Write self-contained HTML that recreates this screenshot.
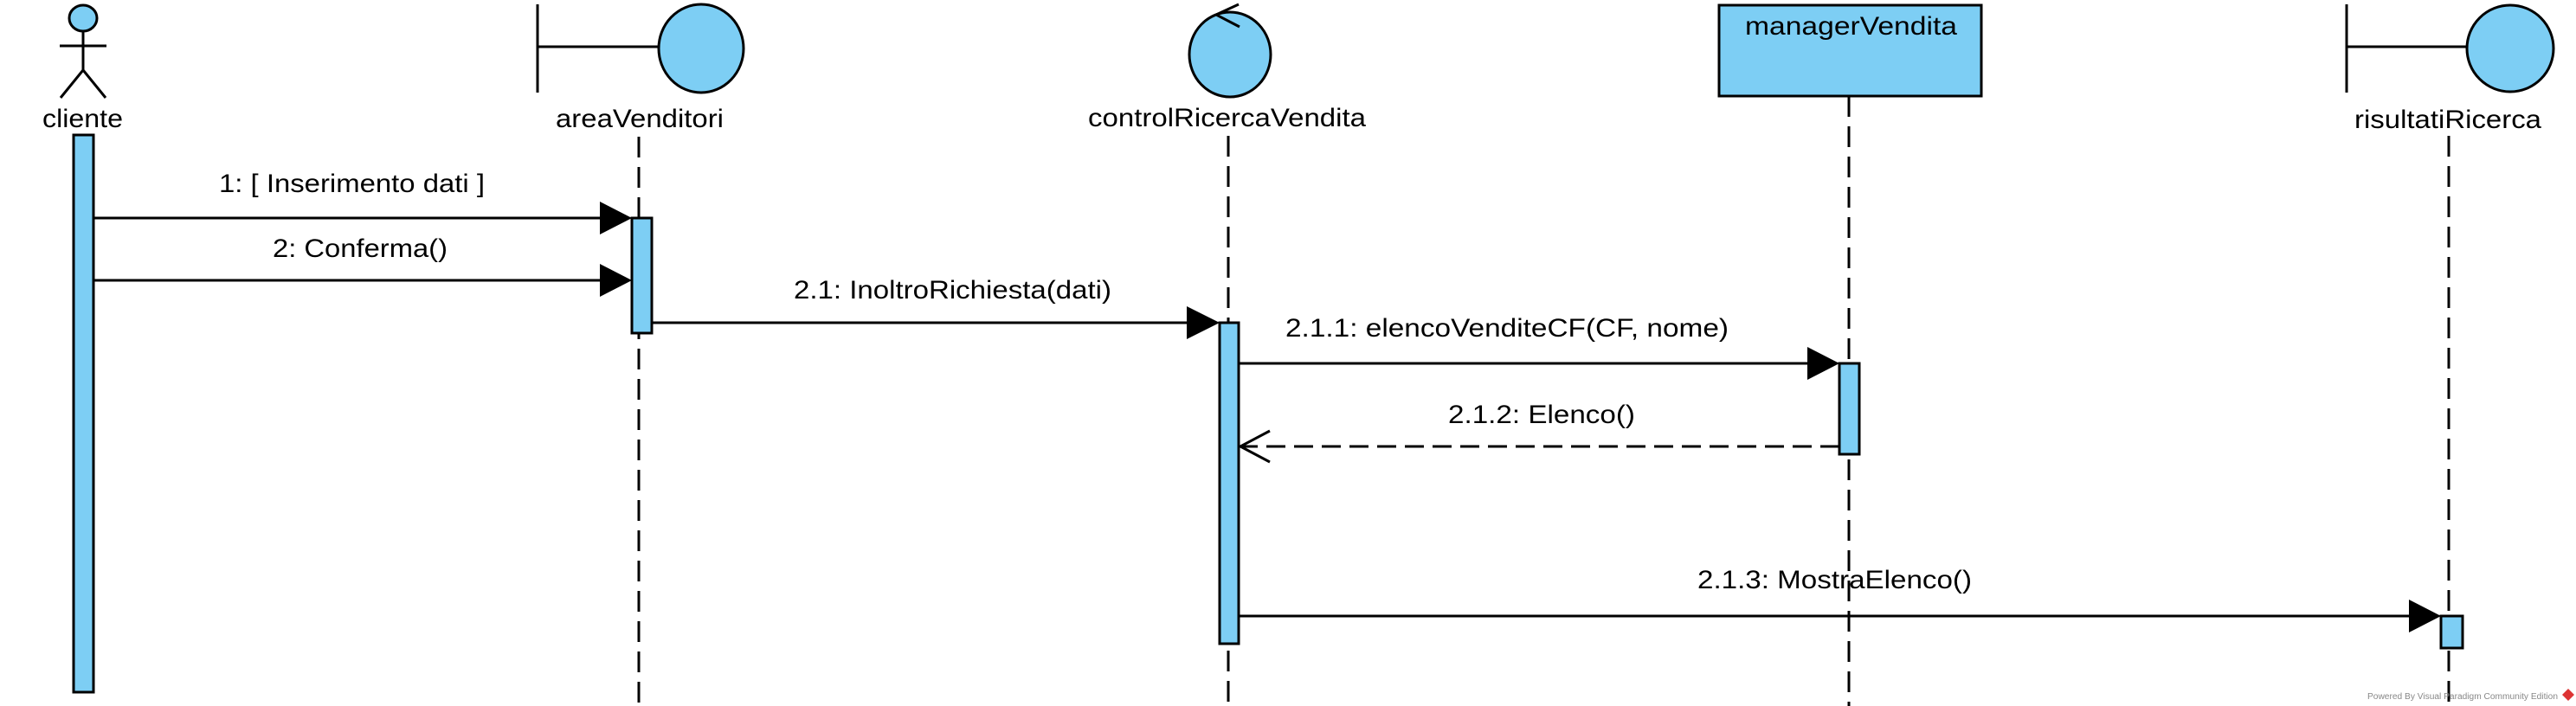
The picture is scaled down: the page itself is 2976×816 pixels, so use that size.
<!DOCTYPE html>
<html><head><meta charset="utf-8"><style>html,body{margin:0;padding:0;background:#fff}svg{display:block}</style></head>
<body>
<svg width="2976" height="816" viewBox="0 0 2976 816" xmlns="http://www.w3.org/2000/svg" font-family="'Liberation Sans', Arial, sans-serif">
<g stroke="#000" stroke-width="3" fill="none">
  <!-- lifelines -->
  <line x1="738" y1="158" x2="738" y2="816" stroke-dasharray="24,11"/>
  <line x1="1419" y1="157" x2="1419" y2="816" stroke-dasharray="24,11"/>
  <line x1="2136" y1="111" x2="2136" y2="816" stroke-dasharray="24,11"/>
  <line x1="2829" y1="157" x2="2829" y2="816" stroke-dasharray="24,11"/>
  <!-- actor -->
  <ellipse cx="96" cy="21" rx="16" ry="15" fill="#7dcef4"/>
  <line x1="96" y1="36" x2="96" y2="81"/>
  <line x1="69" y1="53" x2="123" y2="53"/>
  <line x1="96" y1="81" x2="70" y2="113"/>
  <line x1="96" y1="81" x2="122" y2="113"/>
  <!-- boundary areaVenditori -->
  <line x1="621" y1="5" x2="621" y2="107"/>
  <line x1="621" y1="54" x2="761" y2="54"/>
  <ellipse cx="810" cy="56" rx="49" ry="51" fill="#7dcef4"/>
  <!-- control -->
  <ellipse cx="1421" cy="63" rx="47" ry="49" fill="#7dcef4"/>
  <polyline points="1431,5 1405,17 1432,31"/>
  <!-- managerVendita -->
  <rect x="1986" y="6" width="303" height="105" fill="#7dcef4"/>
  <!-- boundary risultatiRicerca -->
  <line x1="2711" y1="5" x2="2711" y2="107"/>
  <line x1="2711" y1="54" x2="2849" y2="54"/>
  <ellipse cx="2900" cy="56" rx="50" ry="50" fill="#7dcef4"/>
  <!-- messages -->
  <line x1="108" y1="252" x2="700" y2="252"/>
  <line x1="108" y1="324" x2="700" y2="324"/>
  <line x1="753" y1="373" x2="1380" y2="373"/>
  <line x1="1431" y1="420" x2="2095" y2="420"/>
  <line x1="2125" y1="516" x2="1433" y2="516" stroke-dasharray="22,10"/>
  <polyline points="1467,498 1433,516 1467,534"/>
  <line x1="1431" y1="712" x2="2790" y2="712"/>
  <!-- activations -->
  <rect x="85" y="156" width="23" height="644" fill="#7dcef4"/>
  <rect x="730" y="252" width="23" height="133" fill="#7dcef4"/>
  <rect x="1409" y="373" width="22" height="371" fill="#7dcef4"/>
  <rect x="2125" y="420" width="23" height="105" fill="#7dcef4"/>
  <rect x="2820" y="712" width="25" height="37" fill="#7dcef4"/>
</g>
<g fill="#000">
  <polygon points="693,233 730,252 693,271"/>
  <polygon points="693,305 730,324 693,343"/>
  <polygon points="1371,354 1409,373 1371,392"/>
  <polygon points="2088,401 2125,420 2088,439"/>
  <polygon points="2783,693 2820,712 2783,731"/>
</g>
<g font-size="30" fill="#000">
  <text x="49" y="147" textLength="93" lengthAdjust="spacingAndGlyphs">cliente</text>
  <text x="642" y="147" textLength="194" lengthAdjust="spacingAndGlyphs">areaVenditori</text>
  <text x="1257" y="146" textLength="321" lengthAdjust="spacingAndGlyphs">controlRicercaVendita</text>
  <text x="2016" y="40" textLength="245" lengthAdjust="spacingAndGlyphs">managerVendita</text>
  <text x="2720" y="148" textLength="216" lengthAdjust="spacingAndGlyphs">risultatiRicerca</text>
  <text x="253" y="222" textLength="307" lengthAdjust="spacingAndGlyphs">1: [ Inserimento dati ]</text>
  <text x="315" y="297" textLength="202" lengthAdjust="spacingAndGlyphs">2: Conferma()</text>
  <text x="917" y="345" textLength="367" lengthAdjust="spacingAndGlyphs">2.1: InoltroRichiesta(dati)</text>
  <text x="1485" y="389" textLength="512" lengthAdjust="spacingAndGlyphs">2.1.1: elencoVenditeCF(CF, nome)</text>
  <text x="1673" y="489" textLength="216" lengthAdjust="spacingAndGlyphs">2.1.2: Elenco()</text>
  <text x="1961" y="680" textLength="317" lengthAdjust="spacingAndGlyphs">2.1.3: MostraElenco()</text>
</g>
<text x="2735" y="808" font-size="10" fill="#888" textLength="220" lengthAdjust="spacingAndGlyphs">Powered By Visual Paradigm Community Edition</text>
<polygon points="2967,796 2974,803 2967,810 2960,803" fill="#d33"/>
</svg>
</body></html>
